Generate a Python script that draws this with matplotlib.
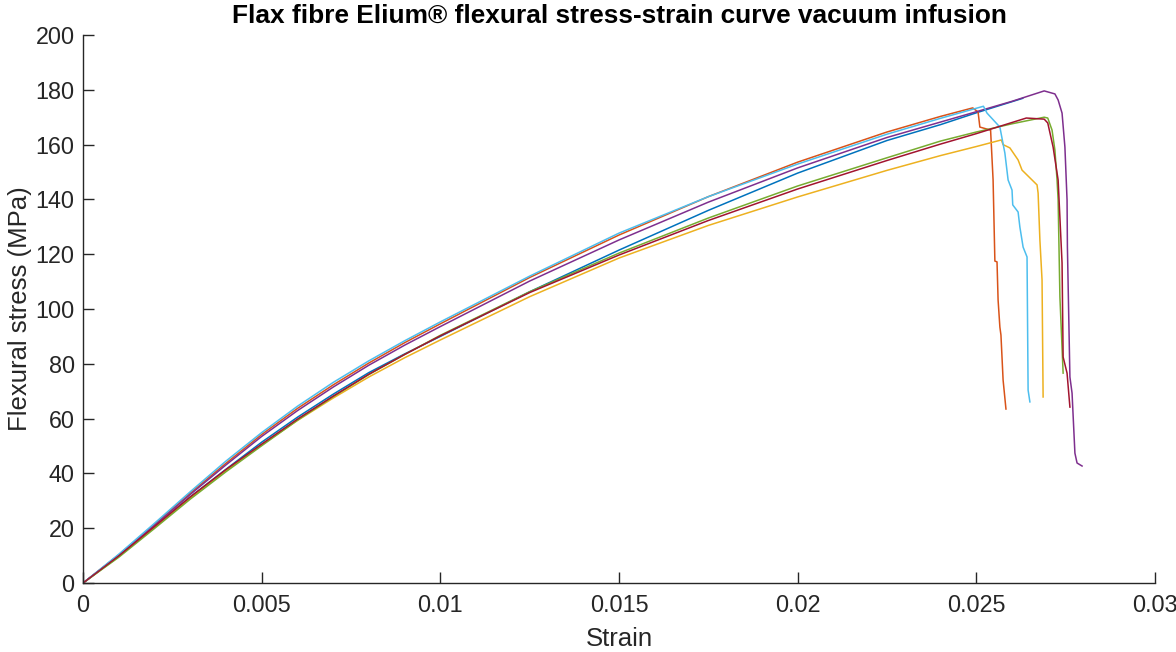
import matplotlib
matplotlib.use('Agg')
import matplotlib.pyplot as plt

# strain / stress, one pair of lists per specimen
grid = [0, .001, .002, .003, .004, .005, .006, .007, .008, .009, .010, .0125, .015, .0175, .020, .0225]

strain_blue = grid + [.024, .025, .0263]
stress_blue = [0, 9.9, 20.6, 31.4, 41.5, 51.4, 60.5, 68.9, 76.8, 83.6, 90, 106.3, 121.5, 136, 149.6, 161.5,
               167.3, 171.6, 176.9]

strain_orange = grid + [.024, .0249, .02505, .0251, .0254, .02547, .02552, .02558, .02561, .02566, .02569, .02575, .02583]
stress_orange = [0, 10.3, 21.4, 32.8, 43.7, 54.2, 63.7, 72.3, 80.3, 87.7, 94.6, 111.5, 127, 141, 153.6, 164.6,
                 170.3, 173.4, 171.9, 166.4, 165.3, 147.1, 117.5, 117.2, 103.3, 93.4, 90.5, 74.1, 63.5]

strain_yellow = grid + [.024, .025, .0257, .02575, .02594, .02617, .02628, .02656, .0267, .02673, .02678, .02684, .02687]
stress_yellow = [0, 9.7, 20.3, 31, 41, 50.4, 59.3, 67.5, 75.2, 82.2, 88.7, 104.5, 118.6, 130.5, 140.9, 150.6,
                 156, 159.3, 161.7, 160, 158.8, 154.4, 150.7, 147.1, 145.3, 142.3, 125.2, 110.6, 67.9]

strain_purple = grid + [.025, .026, .0269, .0272, .02729, .0274, .02748, .02754, .02755, .02762, .02768, .02776, .02782, .02796]
stress_purple = [0, 10.2, 21.1, 32.3, 43.1, 53.5, 62.9, 71.5, 79.5, 86.8, 93.6, 110.2, 125.2, 139, 151.5, 162.6,
                 172, 175.8, 179.6, 178.5, 176.3, 171.5, 159.1, 139.8, 122.6, 75.2, 69.3, 47.4, 43.8, 42.7]

strain_green = grid + [.024, .025, .026, .0269, .027, .02712, .0272, .02726, .02729, .02734, .02743]
stress_green = [0, 9.4, 19.9, 30.6, 40.6, 50.1, 59.4, 68, 76.1, 83.4, 90.4, 106.3, 120.4, 133.2, 144.9, 155.2,
                161.3, 164.6, 167.6, 170, 169.7, 165.3, 158, 147.1, 139.8, 104.4, 76.6]

strain_cyan = grid + [.024, .0252, .0253, .02566, .0258, .02589, .026, .02602, .02617, .02622, .02631, .02642, .02645, .0265]
stress_cyan = [0, 10.5, 21.8, 33.3, 44.5, 54.9, 64.5, 73.2, 81.1, 88.4, 95.3, 112, 127.7, 141, 152.9, 163.8,
               169.6, 174, 171.5, 166.4, 156.9, 147.1, 143.4, 138, 135.4, 129.9, 122.6, 119, 70.4, 66.1]

strain_red = grid + [.024, .025, .0264, .0269, .027, .02715, .02729, .0274, .02743, .02754, .02762]
stress_red = [0, 9.9, 20.6, 31.4, 41.4, 50.7, 59.8, 68.2, 76.2, 83.4, 90.2, 106, 119.7, 132.3, 143.8, 154.2,
              160.2, 164, 169.7, 169.3, 167.9, 159.1, 147.1, 116.8, 82.5, 76.6, 64.2]

xticks = [0, 0.005, 0.01, 0.015, 0.02, 0.025, 0.03]
xticklabels = ['0', '0.005', '0.01', '0.015', '0.02', '0.025', '0.03']
yticks = list(range(0, 201, 20))

# matlab default colour order
curves = [
    (strain_blue, stress_blue, '#0072BD'),
    (strain_orange, stress_orange, '#D95319'),
    (strain_yellow, stress_yellow, '#EDB120'),
    (strain_purple, stress_purple, '#7E2F8E'),
    (strain_green, stress_green, '#77AC30'),
    (strain_cyan, stress_cyan, '#4DBEEE'),
    (strain_red, stress_red, '#A2142F'),
]

plt.rcParams['font.family'] = ['Liberation Sans', 'DejaVu Sans']
fig = plt.figure(figsize=(11.76, 6.52), dpi=100)
ax = fig.add_axes([0.0706, 0.1058, 0.9115, 0.8405])

for x, y, c in curves:
    ax.plot(x, y, color=c, linewidth=1.1)

ax.set_xlim(0, 0.03)
ax.set_ylim(0, 200)
ax.set_xticks(xticks)
ax.set_xticklabels(xticklabels)
ax.set_yticks(yticks)

grey = '#262626'
for side in ['top', 'right']:
    ax.spines[side].set_visible(False)
for side in ['left', 'bottom']:
    ax.spines[side].set_color(grey)
    ax.spines[side].set_linewidth(1.0)
ax.tick_params(direction='in', length=8, width=1.0, colors=grey, labelsize=16.8)
ax.tick_params(axis='x', pad=8)
ax.tick_params(axis='y', pad=6)

ax.set_xlabel('Strain', fontsize=18.5, color=grey, labelpad=7)
ax.set_ylabel('Flexural stress (MPa)', fontsize=18.5, color=grey, labelpad=2.5)
ax.set_title('Flax fibre Elium\u00ae flexural stress-strain curve vacuum infusion',
             fontsize=18.9, fontweight='bold', color='black', pad=9)

fig.savefig('out.png', dpi=100)
